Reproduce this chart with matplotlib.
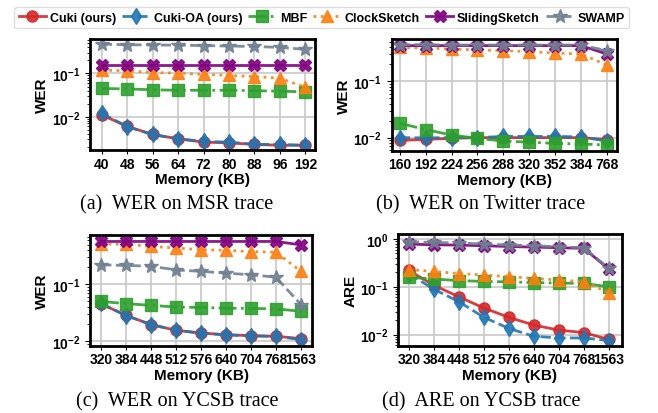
import matplotlib
matplotlib.use("Agg")
import matplotlib.pyplot as plt

plt.rcParams["font.family"] = ["Liberation Sans", "DejaVu Sans"]
plt.rcParams["font.weight"] = "bold"

methods = ["Cuki (ours)", "Cuki-OA (ours)", "MBF", "ClockSketch", "SlidingSketch", "SWAMP"]
colors = ["#d62728", "#1f77b4", "#2ca02c", "#ff7f0e", "#800080", "#708090"]
markers = ["o", "d", "s", "^", "X", "*"]
styles = ["-", "--", "-.", ":", "-", "--"]

mem_msr = ["40", "48", "56", "64", "72", "80", "88", "96", "192"]
mem_twitter = ["160", "192", "224", "256", "288", "320", "352", "384", "768"]
mem_ycsb = ["320", "384", "448", "512", "576", "640", "704", "768", "1563"]

# WER on MSR trace
wer_msr = {
    "Cuki (ours)": [0.011, 0.006, 0.0039, 0.0031, 0.0026, 0.0025, 0.0023, 0.0022, 0.0022],
    "Cuki-OA (ours)": [0.012, 0.0059, 0.0039, 0.0031, 0.0027, 0.0026, 0.0023, 0.0023, 0.0022],
    "MBF": [0.045, 0.044, 0.042, 0.041, 0.041, 0.041, 0.040, 0.039, 0.0377],
    "ClockSketch": [0.12, 0.115, 0.105, 0.102, 0.095, 0.09, 0.085, 0.078, 0.048],
    "SlidingSketch": [0.155, 0.155, 0.155, 0.155, 0.155, 0.155, 0.155, 0.155, 0.155],
    "SWAMP": [0.475, 0.46, 0.455, 0.45, 0.44, 0.43, 0.42, 0.40, 0.36],
}

# WER on Twitter trace
wer_twitter = {
    "Cuki (ours)": [0.0089, 0.0093, 0.0097, 0.0100, 0.0100, 0.0100, 0.0100, 0.0100, 0.0092],
    "Cuki-OA (ours)": [0.0100, 0.0099, 0.0100, 0.0100, 0.0105, 0.0105, 0.0105, 0.0103, 0.0087],
    "MBF": [0.018, 0.0139, 0.0111, 0.0097, 0.0087, 0.0083, 0.0079, 0.0077, 0.0074],
    "ClockSketch": [0.40, 0.39, 0.375, 0.36, 0.35, 0.336, 0.318, 0.305, 0.195],
    "SlidingSketch": [0.43, 0.43, 0.43, 0.43, 0.43, 0.43, 0.43, 0.43, 0.305],
    "SWAMP": [0.447, 0.447, 0.44, 0.44, 0.44, 0.44, 0.44, 0.44, 0.35],
}

# WER on YCSB trace
wer_ycsb = {
    "Cuki (ours)": [0.045, 0.0284, 0.0194, 0.0154, 0.0138, 0.0129, 0.0124, 0.0121, 0.011],
    "Cuki-OA (ours)": [0.046, 0.028, 0.0195, 0.0155, 0.0137, 0.0128, 0.0123, 0.0120, 0.0106],
    "MBF": [0.050, 0.0456, 0.0426, 0.0398, 0.039, 0.038, 0.0376, 0.037, 0.0334],
    "ClockSketch": [0.52, 0.51, 0.47, 0.44, 0.41, 0.40, 0.38, 0.37, 0.17],
    "SlidingSketch": [0.574, 0.574, 0.574, 0.574, 0.574, 0.574, 0.574, 0.574, 0.50],
    "SWAMP": [0.222, 0.216, 0.21, 0.18, 0.17, 0.158, 0.148, 0.134, 0.044],
}

# ARE on YCSB trace
are_ycsb = {
    "Cuki (ours)": [0.22, 0.108, 0.062, 0.036, 0.023, 0.0158, 0.0124, 0.011, 0.0079],
    "Cuki-OA (ours)": [0.19, 0.089, 0.049, 0.023, 0.0135, 0.0092, 0.0085, 0.0085, 0.0075],
    "MBF": [0.158, 0.146, 0.135, 0.13, 0.127, 0.123, 0.12, 0.118, 0.10],
    "ClockSketch": [0.23, 0.21, 0.19, 0.177, 0.163, 0.15, 0.139, 0.128, 0.076],
    "SlidingSketch": [0.785, 0.76, 0.75, 0.725, 0.70, 0.68, 0.66, 0.64, 0.236],
    "SWAMP": [0.88, 0.85, 0.83, 0.79, 0.75, 0.73, 0.69, 0.66, 0.244],
}

fig = plt.figure(figsize=(6.58, 4.14), dpi=100)

panels = [
    ([0.137, 0.635, 0.342, 0.268], mem_msr, wer_msr, "WER", (0.0017, 0.62), (-0.46, 8.39), "(a)  WER on MSR trace", (0.268, 0.506)),
    ([0.595, 0.634, 0.343, 0.269], mem_twitter, wer_twitter, "WER", (0.0059, 0.56), (-0.32, 8.4), "(b)  WER on Twitter trace", (0.730, 0.506)),
    ([0.137, 0.163, 0.337, 0.268], mem_ycsb, wer_ycsb, "WER", (0.0083, 0.76), (-0.44, 8.44), "(c)  WER on YCSB trace", (0.269, 0.029)),
    ([0.605, 0.163, 0.340, 0.269], mem_ycsb, are_ycsb, "ARE", (0.0059, 1.27), (-0.43, 8.52), "(d)  ARE on YCSB trace", (0.732, 0.029)),
]

handles = []
for rect, mem, data, ylab, ylim, xlim, caption, cap_pos in panels:
    ax = fig.add_axes(rect)
    x = range(len(mem))
    lines = []
    for m, c, mk, ls in zip(methods, colors, markers, styles):
        ms = 10 if mk == "*" else 8
        ln, = ax.plot(x, data[m], color=c, marker=mk, linestyle=ls, linewidth=2,
                      markersize=ms, alpha=0.9, label=m)
        lines.append(ln)
    handles = lines
    ax.set_yscale("log")
    ax.set_ylim(*ylim)
    ax.set_xlim(*xlim)
    ax.set_xticks(list(x))
    ax.set_xticklabels(mem, fontsize=10, fontweight="bold")
    ax.tick_params(axis="y", labelsize=10)
    ax.tick_params(axis="x", length=3, pad=2)
    ax.grid(True, which="major", color="#c8c8c8", linewidth=1.2)
    ax.set_axisbelow(True)
    for s in ax.spines.values():
        s.set_linewidth(2)
    ax.set_xlabel("Memory (KB)", fontsize=11, fontweight="bold", labelpad=1)
    ax.set_ylabel(ylab, fontsize=11, fontweight="bold", labelpad=2)
    fig.text(cap_pos[0], cap_pos[1], caption, ha="center", va="center",
             fontsize=14.5, family="Liberation Serif", fontweight="normal")

fig.legend(handles=handles, labels=methods, loc="upper left", bbox_to_anchor=(0.012, 0.995),
           ncol=6, handlelength=2.2, columnspacing=0.5, handletextpad=0.3,
           borderpad=0.35, fancybox=True, framealpha=1, edgecolor="#dddddd",
           prop={"weight": "bold", "size": 9})

fig.savefig("out.png", dpi=100)
